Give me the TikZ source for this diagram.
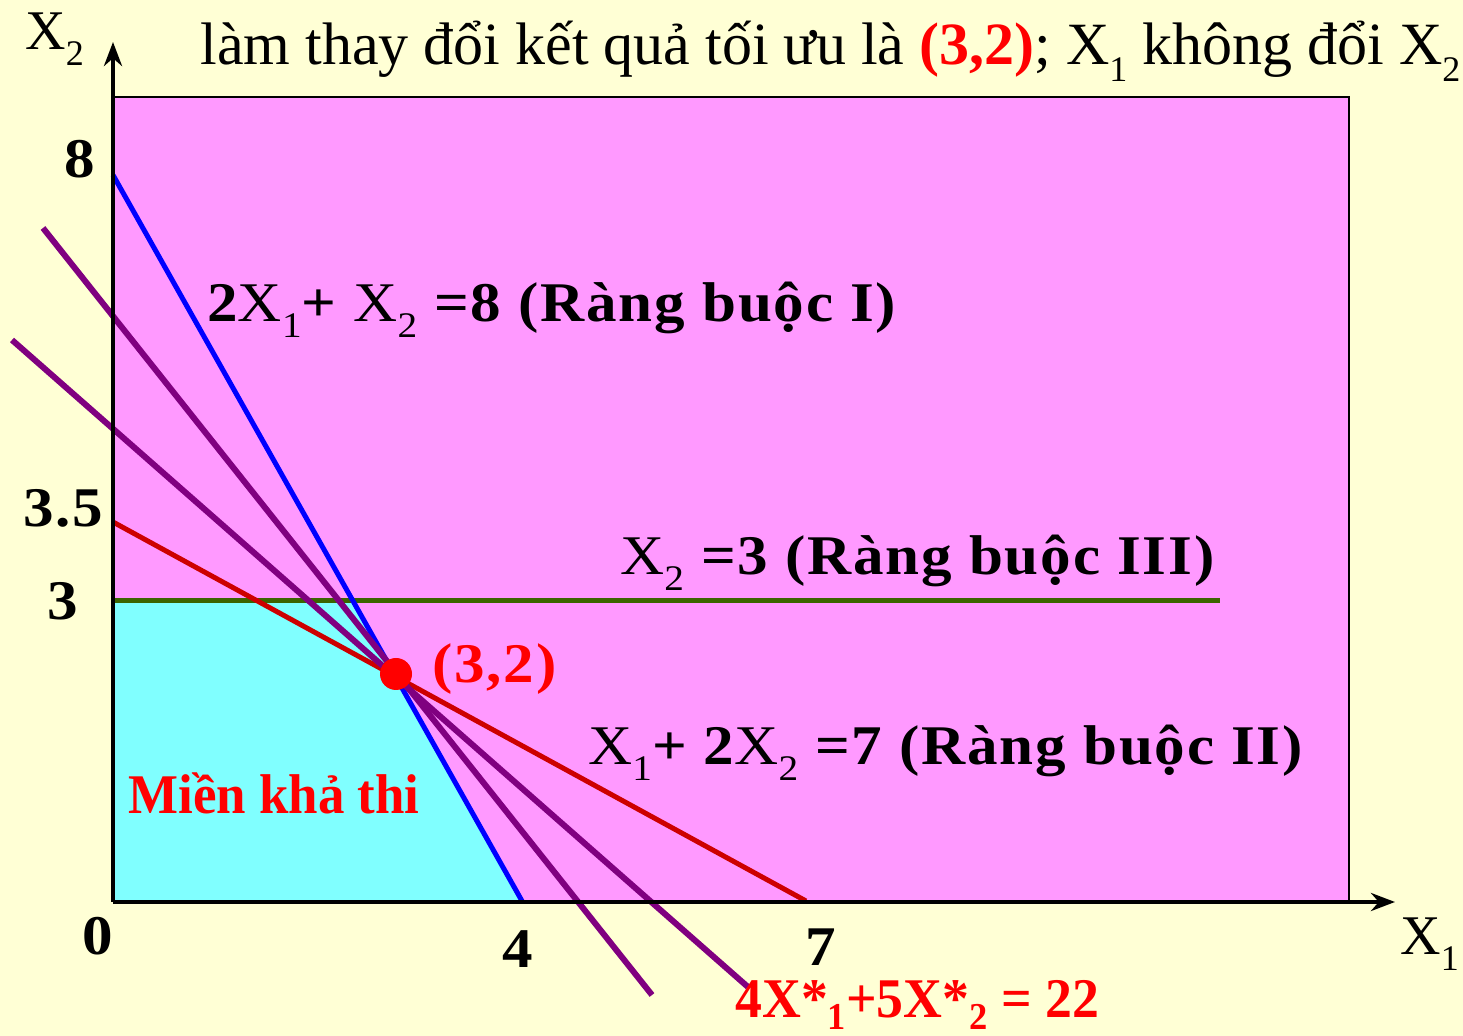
\documentclass[tikz,border=0pt]{standalone}
\usepackage{fontspec}
\setmainfont{Liberation Serif}
\newfontfamily\lsfont[LetterSpace=3]{Liberation Serif}
\usetikzlibrary{arrows.meta}
\definecolor{bgy}{RGB}{255,255,213}
\definecolor{pinkf}{RGB}{255,153,255}
\definecolor{cyanf}{RGB}{128,255,255}
\definecolor{redl}{RGB}{205,0,0}
\definecolor{greenl}{RGB}{60,100,0}
\definecolor{purl}{RGB}{128,0,128}
\definecolor{redt}{RGB}{255,0,0}
\newcommand\sbx[1]{\raisebox{-0.28em}{\mdseries\fontsize{18}{18}\selectfont #1}}
\newcommand\sbb[1]{\raisebox{-0.2em}{\bfseries\fontsize{19}{19}\selectfont #1}}
\newcommand\Xr{{\mdseries X}}
\newcommand\wl[1]{\scalebox{1.09}[1]{#1}}
\tikzset{
  axis/.style={line width=2pt,-{Stealth[length=12pt,width=9pt]}},
  lbl/.style={inner sep=0pt,anchor=base west,font=\lsfont\fontsize{28}{30}\selectfont\bfseries},
  rlbl/.style={inner sep=0pt,anchor=base west,text=redt,font=\fontsize{28}{30}\selectfont\bfseries},
  axlbl/.style={inner sep=0pt,anchor=base west,font=\fontsize{28}{30}\selectfont},
  toplbl/.style={inner sep=0pt,anchor=base west,font=\fontsize{30}{32}\selectfont},
  cline/.style={line width=2.5pt},
  pline/.style={line width=3pt,purl},
}
\begin{document}
\begin{tikzpicture}[x=0.5pt,y=-0.5pt]
\clip (0,0) rectangle (1463,1036);
\fill[bgy] (0,0) rectangle (1463,1036);
% regions
\fill[pinkf] (113,97) rectangle (1349,901);
\draw[line width=0.8pt] (113,97) -- (1349,97) -- (1349,901);
\fill[cyanf] (113,901) -- (113,601) -- (353,601) -- (522,901) -- cycle;
% coordinates
\coordinate (o) at (113,902);
\coordinate (ytip) at (113,42);
\coordinate (xtip) at (1395,902);
\coordinate (b1) at (113,175);
\coordinate (b2) at (522,901);
\coordinate (r1) at (113,522);
\coordinate (r2) at (806,901);
\coordinate (g1) at (113,601);
\coordinate (g2) at (1220,601);
\coordinate (p1a) at (43,228);
\coordinate (p1b) at (652,995);
\coordinate (p2a) at (12,340);
\coordinate (p2b) at (748,987);
% lines
\draw[cline,greenl] (g1) -- (g2);
\draw[cline,redl] (r1) -- (r2);
\draw[cline,blue] (b1) -- (b2);
\draw[pline] (p1a) -- (p1b);
\draw[pline] (p2a) -- (p2b);
\draw[axis] (o) -- (ytip);
\draw[axis] (o) -- (xtip);
\node[circle,fill=redt,minimum size=16pt,inner sep=0pt] (opt) at (396,674) {};
% axis labels
\node[axlbl] (lx2) at (25,50) {X\sbx{2}};
\node[axlbl] (lx1) at (1400,955) {X\sbx{1}};
\node[lbl] (t8) at (64,178) {\wl{8}};
\node[lbl] (t35) at (23,527) {\wl{3.5}};
\node[lbl] (t3) at (47,620) {\wl{3}};
\node[lbl] (t0) at (82,955) {\wl{0}};
\node[lbl] (t4) at (502,968) {\wl{4}};
\node[lbl] (t7) at (805,966) {\wl{7}};
% labels
\node[lbl] (c1) at (207,322) {\wl{2\Xr\sbx{1}+ \Xr\sbx{2} =8 (Ràng buộc I)}};
\node[lbl] (c3) at (620,575) {\wl{\Xr\sbx{2} =3 (Ràng buộc III)}};
\node[lbl] (c2) at (588,765) {\wl{\Xr\sbx{1}+ 2\Xr\sbx{2} =7 (Ràng buộc II)}};
\node[lbl,text=redt] (pt) at (432,683) {\wl{(3,2)}};
\node[rlbl] (mk) at (128,814) {\scalebox{0.945}[1]{Miền khả thi}};
\node[rlbl] (obj) at (735,1018) {\scalebox{0.96}[1]{4X*\sbb{1}+5X*\sbb{2} = 22}};
\node[toplbl] (top) at (200,65) {làm thay đổi kết quả tối ưu là \textcolor{redt}{\bfseries(3,2)}; X\sbx{1} không đổi X\sbx{2}};
\end{tikzpicture}
\end{document}
